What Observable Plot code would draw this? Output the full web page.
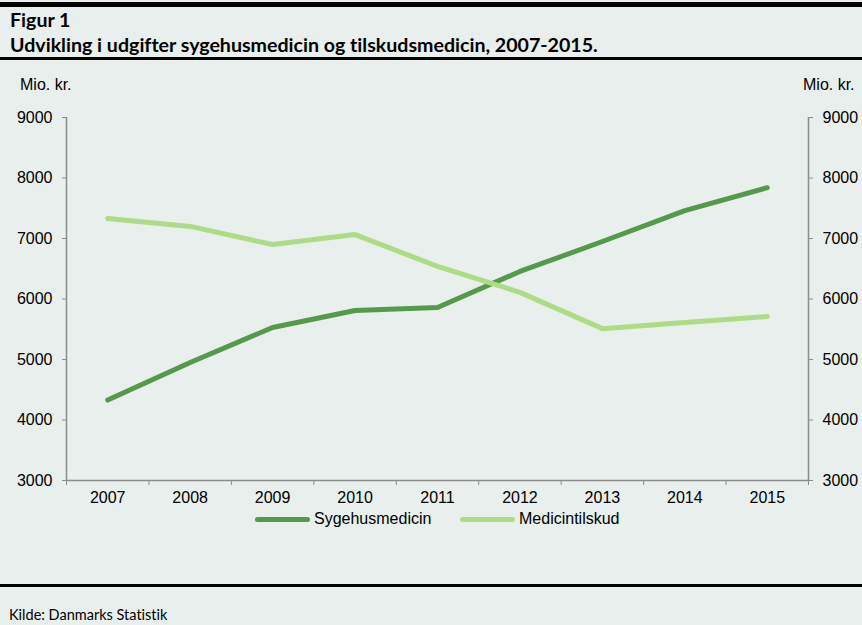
<!DOCTYPE html>
<html>
<head>
<meta charset="utf-8">
<script src="https://cdn.jsdelivr.net/npm/d3@7"></script>
<script src="https://cdn.jsdelivr.net/npm/@observablehq/plot@0.6"></script>
<style>
  html, body { margin: 0; padding: 0; }
  body { width: 862px; height: 625px; background: #e9efec; position: relative; overflow: hidden; font-variant-ligatures: none; }
  .bar { position: absolute; left: 0; width: 862px; background: #000; }
  .title { position: absolute; left: 10px; font-family: Lato, "Open Sans", sans-serif; font-weight: 700; font-size: 19.6px; color: #000; white-space: nowrap; line-height: 1; }
  .unit { position: absolute; font-family: "Liberation Sans", Arial, sans-serif; font-size: 16px; color: #000; line-height: 1; }
  #chart { position: absolute; left: 0; top: 60px; }
  .legend { position: absolute; top: 511px; font-family: "Liberation Sans", Arial, sans-serif; font-size: 16px; color: #000; line-height: 1; display: flex; align-items: center; }
  .legend span.sw { display: inline-block; width: 55px; height: 5px; border-radius: 3px; margin-right: 4px; }
  .source { position: absolute; left: 9px; top: 608px; font-family: Lato, "Open Sans", sans-serif; font-size: 14.5px; color: #000; line-height: 1; }
  svg text { font-variant-ligatures: none; }
</style>
</head>
<body>
<div class="bar" style="top:2px;height:5px"></div>
<div class="title" style="top:10px">Figur 1</div>
<div class="title" style="top:35px">Udvikling i udgifter sygehusmedicin og tilskudsmedicin, 2007-2015.</div>
<div class="bar" style="top:57px;height:3px"></div>
<div class="unit" style="left:20px;top:77px">Mio. kr.</div>
<div class="unit" style="left:803px;top:77px">Mio. kr.</div>
<div id="chart"></div>
<div class="legend" style="left:255px"><span class="sw" style="background:#559a4c"></span>Sygehusmedicin</div>
<div class="legend" style="left:460px"><span class="sw" style="background:#aedb86"></span>Medicintilskud</div>
<div class="bar" style="top:584px;height:3px"></div>
<div class="source">Kilde: Danmarks Statistik</div>
<script>
const years = [2007, 2008, 2009, 2010, 2011, 2012, 2013, 2014, 2015];
const sygehusmedicin = [4330, 4950, 5530, 5810, 5860, 6455, 6950, 7460, 7840];
const medicintilskud = [7330, 7200, 6900, 7065, 6540, 6110, 5510, 5610, 5710];
const yTicks = [3000, 4000, 5000, 6000, 7000, 8000, 9000];
const yearBounds = [2006.5, 2007.5, 2008.5, 2009.5, 2010.5, 2011.5, 2012.5, 2013.5, 2014.5, 2015.5];

const rows = [];
years.forEach((yr, i) => {
  rows.push({year: yr, value: sygehusmedicin[i], series: "Sygehusmedicin"});
  rows.push({year: yr, value: medicintilskud[i], series: "Medicintilskud"});
});

const axisGray = "#8c8c8c";
const chart = Plot.plot({
  width: 862,
  height: 500,
  marginTop: 57,
  marginBottom: 80,
  marginLeft: 66,
  marginRight: 54,
  x: {domain: [2006.5, 2015.5]},
  y: {domain: [3000, 9000]},
  color: {domain: ["Sygehusmedicin", "Medicintilskud"], range: ["#559a4c", "#aedb86"]},
  style: {background: "transparent", fontFamily: "'Liberation Sans', Arial, sans-serif", fontSize: "16px", color: "#000", overflow: "visible"},
  marks: [
    Plot.ruleX([2006.5, 2015.5], {y1: 3000, y2: 9000, stroke: axisGray, strokeWidth: 1.5}),
    Plot.ruleY([3000], {stroke: axisGray, strokeWidth: 1.5}),
    Plot.axisY({anchor: "left", ticks: yTicks, tickSize: 4, tickPadding: 10, label: null, stroke: axisGray, fill: "#000", fontSize: 16, tickFormat: d => String(d)}),
    Plot.axisY({anchor: "right", ticks: yTicks, tickSize: 4, tickPadding: 10, label: null, stroke: axisGray, fill: "#000", fontSize: 16, tickFormat: d => String(d)}),
    Plot.axisX({ticks: yearBounds, tickSize: 5, tickFormat: () => "", label: null, stroke: axisGray}),
    Plot.axisX({ticks: years, tickSize: 0, tickPadding: 11, label: null, fill: "#000", fontSize: 16, tickFormat: d => String(d)}),
    Plot.line(rows, {x: "year", y: "value", z: "series", stroke: "series", strokeWidth: 5, strokeLinecap: "round", strokeLinejoin: "round"})
  ]
});
document.getElementById("chart").appendChild(chart);
</script>
</body>
</html>
